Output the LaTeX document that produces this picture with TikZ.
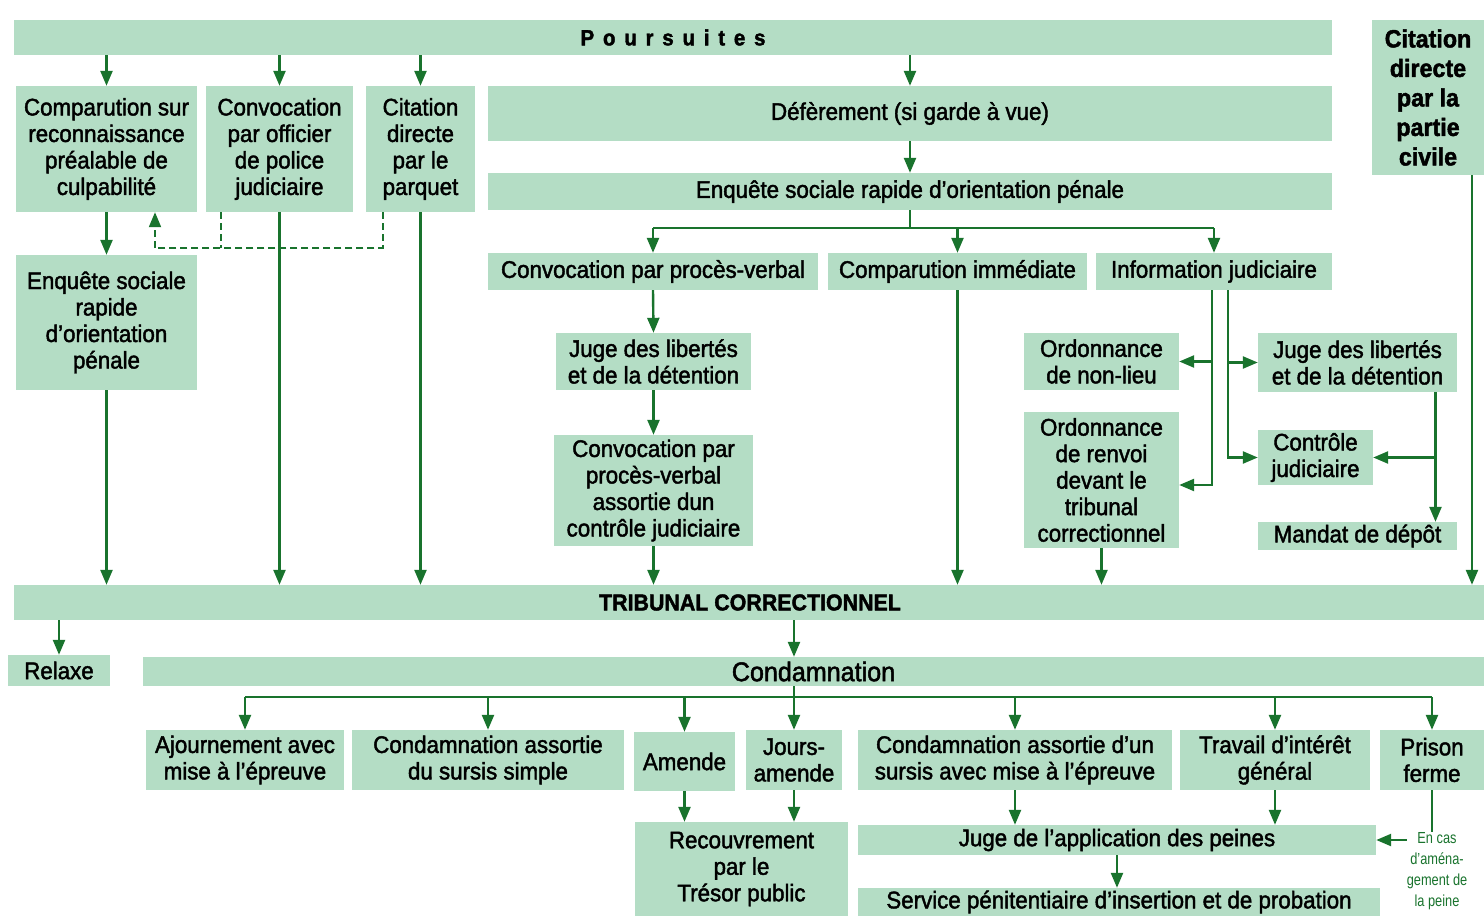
\documentclass[tikz,border=0pt]{standalone}
\usepackage{fontspec}
\setmainfont{Liberation Sans}[FakeStretch=0.93,FakeBold=1.8]
\newfontfamily\notefont{Liberation Sans}[FakeStretch=0.8]
\usetikzlibrary{arrows.meta}
\definecolor{boxgreen}{RGB}{180,221,197}
\definecolor{linegreen}{RGB}{25,115,45}

\begin{document}
\begin{tikzpicture}[x=1pt,y=-1pt,>={Triangle[length=15pt,width=12pt]},
    box/.style={fill=boxgreen,inner sep=0pt,align=center,font=\fontsize{24}{26.5}\selectfont},
    sz/.style 2 args={minimum width=#1pt,minimum height=#2pt},
    lnk/.style={draw=linegreen,line width=2.4pt},
    dash line/.style={lnk,line width=2pt,dash pattern=on 7pt off 4pt}]
    \useasboundingbox (0,0) rectangle (1484,916);

    % poursuites
    \node[box,sz={1318}{35},font=\fontsize{22}{26}\selectfont\bfseries\addfontfeature{LetterSpace=40}] (pours) at (673,37.5) {Poursuites};
    \node[box,sz={112}{155},font=\fontsize{25}{29.5}\selectfont\bfseries] (civ) at (1428,97.5) {Citation\\directe\\par la\\partie\\civile};

    \node[box,sz={181}{126}] (crpc) at (106.5,149) {Comparution sur\\reconnaissance\\préalable de\\culpabilité};
    \node[box,sz={147}{126}] (convopj) at (279.5,149) {Convocation\\par officier\\de police\\judiciaire};
    \node[box,sz={109}{126}] (citparq) at (420.5,149) {Citation\\directe\\par le\\parquet};
    \node[box,sz={844}{55}] (defer) at (910,113.5) {Défèrement (si garde à vue)};
    \node[box,sz={844}{37}] (enqbig) at (910,191.5) {Enquête sociale rapide d’orientation pénale};
    \node[box,sz={181}{135}] (enqleft) at (106.5,322.5) {Enquête sociale\\rapide\\d’orientation\\pénale};

    % orientation
    \node[box,sz={330}{37}] (convpv) at (653,271.5) {Convocation par procès-verbal};
    \node[box,sz={259}{37}] (compimm) at (957.5,271.5) {Comparution immédiate};
    \node[box,sz={236}{37}] (infojud) at (1214,271.5) {Information judiciaire};
    \node[box,sz={195}{57}] (jldmid) at (653.5,361.5) {Juge des libertés\\et de la détention};
    \node[box,sz={199}{111}] (convpvcj) at (653.5,490.5) {Convocation par\\procès-verbal\\assortie dun\\contrôle judiciaire};
    \node[box,sz={155}{57}] (nonlieu) at (1101.5,361.5) {Ordonnance\\de non-lieu};
    \node[box,sz={155}{136}] (renvoi) at (1101.5,480) {Ordonnance\\de renvoi\\devant le\\tribunal\\correctionnel};
    \node[box,sz={199}{59}] (jldright) at (1357.5,362.5) {Juge des libertés\\et de la détention};
    \node[box,sz={115}{55}] (ctrl) at (1315.5,457.5) {Contrôle\\judiciaire};
    \node[box,sz={199}{28}] (mandat) at (1357.5,536) {Mandat de dépôt};

    % tribunal
    \node[box,sz={1472}{35},font=\fontsize{23}{26}\selectfont\bfseries] (trib) at (750,602.5) {TRIBUNAL CORRECTIONNEL};
    \node[box,sz={102}{31}] (relaxe) at (59,670.5) {Relaxe};
    \node[box,sz={1341}{29},font=\fontsize{27}{30}\selectfont] (condam) at (813.5,671.5) {Condamnation};

    % peines
    \node[box,sz={198}{60}] (ajourn) at (245,760) {Ajournement avec\\mise à l’épreuve};
    \node[box,sz={272}{60}] (sursis) at (488,760) {Condamnation assortie\\du sursis simple};
    \node[box,sz={101}{59}] (amende) at (684.5,761.5) {Amende};
    \node[box,sz={96}{60}] (jours) at (794,760) {Jours-\\amende};
    \node[box,sz={314}{60}] (sme) at (1015,760) {Condamnation assortie d’un\\sursis avec mise à l’épreuve};
    \node[box,sz={190}{60}] (tig) at (1275,760) {Travail d’intérêt\\général};
    \node[box,sz={104}{60}] (prison) at (1432,760) {Prison\\ferme};
    \node[box,sz={213}{94}] (recouv) at (741.5,869) {Recouvrement\\par le\\Trésor public};
    \node[box,sz={518}{30}] (jap) at (1117,840) {Juge de l’application des peines};
    \node[box,sz={522}{28}] (spip) at (1119,902) {Service pénitentiaire d’insertion et de probation};
    \node[text=linegreen,align=center,inner sep=0pt,font=\notefont\fontsize{16}{21}\selectfont] (note) at (1437,871) {En cas\\d’aména-\\gement de\\la peine};

    % arrows from the top
    \foreach \n in {crpc,convopj,citparq,defer}
        \draw[lnk,->] (pours.south -| \n) -- (\n.north);
    \draw[lnk,->] (defer.south) -- (enqbig.north);
    \draw[lnk,->] (crpc.south) -- (enqleft.north);

    % dashed return
    \coordinate (dj) at (155,248);
    \draw[dash line] ([xshift=-38pt]citparq.south) |- (dj);
    \draw[dash line] ([xshift=-59pt]convopj.south) -- ([xshift=-59pt]convopj.south |- dj);
    \draw[dash line,->] (dj) -- (dj |- crpc.south);

    % straight down to the tribunal
    \foreach \n in {enqleft,convopj,citparq,convpvcj,compimm,renvoi}
        \draw[lnk,->] (\n.south) -- (\n.south |- trib.north);
    \draw[lnk,->] ([xshift=44pt]civ.south) -- ([xshift=44pt]civ.south |- trib.north);

    % three ways after the enquete
    \path (enqbig.south) ++(0,18) coordinate (eb);
    \draw[lnk] (enqbig.south) -- (eb);
    \draw[lnk] (eb -| convpv) -- (eb -| infojud);
    \foreach \n in {convpv,compimm,infojud}
        \draw[lnk,->] (eb -| \n) -- (\n.north);
    \draw[lnk,->] (convpv.south) -- (jldmid.north);
    \draw[lnk,->] (jldmid.south) -- (convpvcj.north);

    % information judiciaire
    \coordinate (il) at ([xshift=-2pt]infojud.south);
    \coordinate (ir) at ([xshift=14pt]infojud.south);
    \draw[lnk,->] (il) |- ([yshift=-5pt]renvoi.east);
    \draw[lnk,->] (il |- nonlieu.east) -- (nonlieu.east);
    \draw[lnk,->] (ir) |- (ctrl.west);
    \draw[lnk,->] (ir |- jldright.west) -- (jldright.west);
    \coordinate (jr) at ([xshift=78pt]jldright.south);
    \draw[lnk,->] (jr) -- (jr |- mandat.north);
    \draw[lnk,->] (jr |- ctrl.east) -- (ctrl.east);

    % tribunal
    \draw[lnk,->] (trib.south -| relaxe) -- (relaxe.north);
    \draw[lnk,->] (trib.south -| jours) -- (condam.north -| jours);

    % condamnation
    \path (condam.south -| jours) ++(0,11) coordinate (cb);
    \draw[lnk] (condam.south -| jours) -- (cb);
    \draw[lnk] (cb -| ajourn) -- (cb -| prison);
    \foreach \n in {ajourn,sursis,amende,jours,sme,tig,prison}
        \draw[lnk,->] (cb -| \n) -- (\n.north);
    \foreach \n in {amende,jours}
        \draw[lnk,->] (\n.south) -- (\n.south |- recouv.north);
    \foreach \n in {sme,tig}
        \draw[lnk,->] (\n.south) -- (\n.south |- jap.north);
    \draw[lnk,->] (jap.south) -- (jap.south |- spip.north);
    \draw[lnk,line width=1.6pt] (prison.south) -- (prison.south |- note.north);
    \draw[lnk,->] (note.west |- jap.east) -- (jap.east);
\end{tikzpicture}
\end{document}
